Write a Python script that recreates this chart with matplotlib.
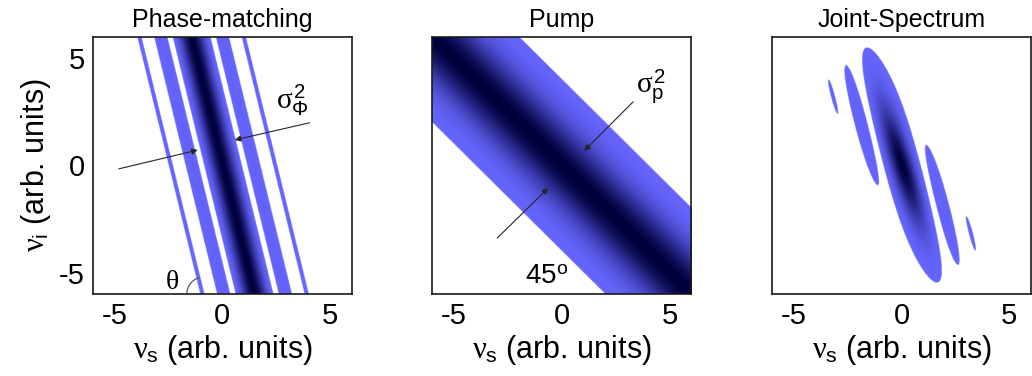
import numpy as np
import matplotlib.pyplot as plt
from matplotlib.colors import LinearSegmentedColormap
from matplotlib.patches import Arc

plt.rcParams['font.family'] = ['Liberation Sans', 'DejaVu Sans']
plt.rcParams['mathtext.fontset'] = 'custom'
plt.rcParams['mathtext.rm'] = 'Liberation Sans'
plt.rcParams['mathtext.it'] = 'Liberation Serif'
plt.rcParams['mathtext.sf'] = 'Liberation Sans'
plt.rcParams['axes.unicode_minus'] = False

# ---- values ----
nu_lim = [-6, 6]
nu_ticks = [-5, 0, 5]
titles = ['Phase-matching', 'Pump', 'Joint-Spectrum']

# phase-matching stripes: sinc^2((nu_s + pm_tilt*nu_i) / pm_zero)
pm_tilt = 0.243
pm_zero = 0.98
# pump band along nu_s + nu_i = 0
pump_w = 1.95
# intensities below this level are left white
cutoff = 0.015

# annotation anchors (data coords)
pm_arrow_tails = [(4.04, 1.99), (-4.8, -0.16)]
pm_arrow_heads = [(0.57, 1.19), (-1.14, 0.72)]
pump_arrow_tails = [(3.30, 2.97), (-3.0, -3.39)]
pump_arrow_heads = [(1.03, 0.68), (-0.63, -1.05)]

# ---- fields ----
nu = np.linspace(nu_lim[0], nu_lim[1], 801)
S, I = np.meshgrid(nu, nu)
phase = np.sinc((S + pm_tilt * I) / pm_zero) ** 2
pump = np.exp(-((S + I) / pump_w) ** 2)
joint = phase * pump
joint = joint / joint.max()

cmap = LinearSegmentedColormap.from_list('bluenavy', [(0.4, 0.4, 1.0), (0.0, 0.0, 0.24)])
cmap.set_under('white')

fig = plt.figure(figsize=(10.32, 3.76), dpi=100)
lefts = [0.090, 0.419, 0.748]
axes = [fig.add_axes([l, 0.218, 0.251, 0.684]) for l in lefts]

arrow_kw = dict(arrowstyle='-|>', lw=0.8, color='0.15', mutation_scale=9,
                shrinkA=0, shrinkB=0)

for ax, field, title in zip(axes, [phase, pump, joint], titles):
    ax.imshow(field, cmap=cmap, vmin=cutoff, vmax=1.0, origin='lower',
              extent=[nu_lim[0], nu_lim[1], nu_lim[0], nu_lim[1]],
              interpolation='bilinear', aspect='auto')
    ax.set_xlim(nu_lim)
    ax.set_ylim(nu_lim)
    ax.set_xticks(nu_ticks)
    ax.set_yticks(nu_ticks)
    ax.tick_params(length=0, labelsize=21, pad=6)
    ax.set_title(title, fontsize=18, pad=7)
    ax.set_xlabel(r'$\nu_\mathrm{s}$ (arb. units)', fontsize=22, labelpad=2)
    for sp in ax.spines.values():
        sp.set_linewidth(1.2)
        sp.set_color('0.1')

axes[0].set_ylabel(r'$\nu_\mathrm{i}$ (arb. units)', fontsize=22, labelpad=4)
axes[1].set_yticklabels([])
axes[2].set_yticklabels([])

# phase-matching annotations
for tail, head in zip(pm_arrow_tails, pm_arrow_heads):
    axes[0].annotate('', xy=head, xytext=tail, arrowprops=arrow_kw)
axes[0].text(3.26, 3.06, r'$\sigma_\mathrm{\Phi}^\mathrm{2}$', fontsize=21,
             ha='center', va='center')
axes[0].text(-2.34, -5.45, r'$\theta$', fontsize=20, ha='center', va='center')
axes[0].add_patch(Arc((-0.85, -6.0), 1.6, 1.6, theta1=105, theta2=180,
                      color='0.35', lw=0.9))

# pump annotations
for tail, head in zip(pump_arrow_tails, pump_arrow_heads):
    axes[1].annotate('', xy=head, xytext=tail, arrowprops=arrow_kw)
axes[1].text(4.13, 3.67, r'$\sigma_\mathrm{p}^\mathrm{2}$', fontsize=21,
             ha='center', va='center')
axes[1].text(-0.72, -5.2, r'45$^\mathrm{o}$', fontsize=20, ha='center', va='center')

fig.savefig('out.png', dpi=100)
